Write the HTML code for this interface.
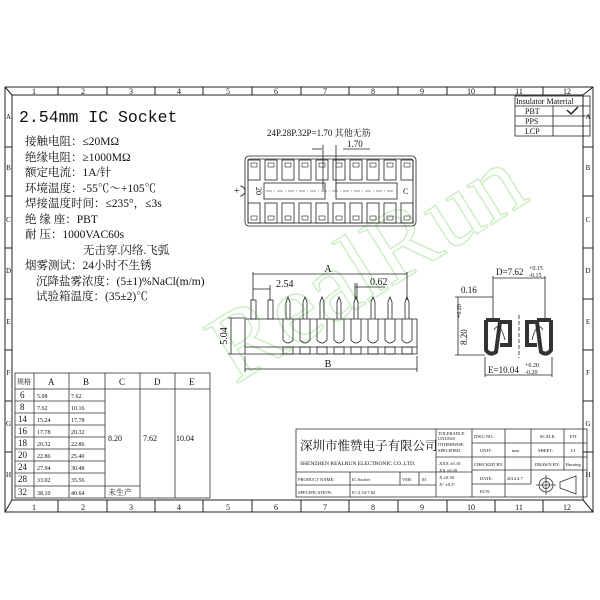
<!DOCTYPE html>
<html><head><meta charset="utf-8"><style>
html,body{margin:0;padding:0;background:#fff;}
svg{display:block}
text{font-family:"Liberation Serif","Noto Serif CJK SC",serif;fill:#111}
.m{font-family:"Liberation Mono","Noto Sans CJK SC",monospace}
</style></head><body>
<svg width="600" height="600" viewBox="0 0 600 600" xmlns="http://www.w3.org/2000/svg">
<rect width="600" height="600" fill="#fff"/>
<!-- watermark -->
<text x="235" y="385" font-size="100" stroke="#cdeec6" stroke-width="1.5" transform="rotate(-32 235 385)" style="fill:none">RealRun</text>
<g stroke="#222" fill="none" stroke-width="1">
<polyline points="5,87 593,87 593,512 5,512 5,87"/>
<rect x="12" y="95" width="571" height="405"/>
<line x1="5" y1="87" x2="12" y2="95"/><line x1="593" y1="87" x2="583" y2="95"/>
<line x1="5" y1="512" x2="12" y2="500"/><line x1="593" y1="512" x2="583" y2="500"/>
<line x1="58" y1="87" x2="58" y2="95"/><line x1="107" y1="87" x2="107" y2="95"/><line x1="155" y1="87" x2="155" y2="95"/><line x1="203" y1="87" x2="203" y2="95"/><line x1="252" y1="87" x2="252" y2="95"/><line x1="301" y1="87" x2="301" y2="95"/><line x1="349" y1="87" x2="349" y2="95"/><line x1="398" y1="87" x2="398" y2="95"/><line x1="447" y1="87" x2="447" y2="95"/><line x1="495" y1="87" x2="495" y2="95"/><line x1="543" y1="87" x2="543" y2="95"/>
<line x1="58" y1="500" x2="58" y2="512"/><line x1="107" y1="500" x2="107" y2="512"/><line x1="155" y1="500" x2="155" y2="512"/><line x1="203" y1="500" x2="203" y2="512"/><line x1="252" y1="500" x2="252" y2="512"/><line x1="301" y1="500" x2="301" y2="512"/><line x1="349" y1="500" x2="349" y2="512"/><line x1="398" y1="500" x2="398" y2="512"/><line x1="447" y1="500" x2="447" y2="512"/><line x1="495" y1="500" x2="495" y2="512"/><line x1="543" y1="500" x2="543" y2="512"/>
<line x1="5" y1="147" x2="12" y2="147"/><line x1="5" y1="196" x2="12" y2="196"/><line x1="5" y1="248" x2="12" y2="248"/><line x1="5" y1="299" x2="12" y2="299"/><line x1="5" y1="350" x2="12" y2="350"/><line x1="5" y1="401" x2="12" y2="401"/><line x1="5" y1="452" x2="12" y2="452"/>
<line x1="583" y1="147" x2="593" y2="147"/><line x1="583" y1="196" x2="593" y2="196"/><line x1="583" y1="248" x2="593" y2="248"/><line x1="583" y1="299" x2="593" y2="299"/><line x1="583" y1="350" x2="593" y2="350"/><line x1="583" y1="401" x2="593" y2="401"/><line x1="583" y1="452" x2="593" y2="452"/>
</g>
<g font-size="8" text-anchor="middle">
<text x="34" y="94">1</text><text x="83" y="94">2</text><text x="131" y="94">3</text><text x="179" y="94">4</text><text x="228" y="94">5</text><text x="276" y="94">6</text><text x="325" y="94">7</text><text x="373" y="94">8</text><text x="422" y="94">9</text><text x="471" y="94">10</text><text x="519" y="94">11</text><text x="567" y="94">12</text>
<text x="34" y="510">1</text><text x="83" y="510">2</text><text x="131" y="510">3</text><text x="179" y="510">4</text><text x="228" y="510">5</text><text x="276" y="510">6</text><text x="325" y="510">7</text><text x="373" y="510">8</text><text x="422" y="510">9</text><text x="471" y="510">10</text><text x="519" y="510">11</text><text x="567" y="510">12</text>
<text x="8.5" y="119" font-size="7">A</text><text x="8.5" y="170" font-size="7">B</text><text x="8.5" y="222" font-size="7">C</text><text x="8.5" y="273" font-size="7">D</text><text x="8.5" y="324" font-size="7">E</text><text x="8.5" y="375" font-size="7">F</text><text x="8.5" y="426" font-size="7">G</text><text x="8.5" y="477" font-size="7">H</text>
<text x="588" y="119" font-size="7">A</text><text x="588" y="170" font-size="7">B</text><text x="588" y="222" font-size="7">C</text><text x="588" y="273" font-size="7">D</text><text x="588" y="324" font-size="7">E</text><text x="588" y="375" font-size="7">F</text><text x="588" y="426" font-size="7">G</text><text x="588" y="477" font-size="7">H</text>
</g>

<text class="m" x="19" y="122" font-size="16.5">2.54mm IC Socket</text>
<g font-size="11.5">
<text x="25" y="145">接触电阻：≤20MΩ</text>
<text x="25" y="161">绝缘电阻：≥1000MΩ</text>
<text x="25" y="176">额定电流：1A/针</text>
<text x="25" y="192">环境温度：-55℃～+105℃</text>
<text x="25" y="207">焊接温度时间：≤235°，≤3s</text>
<text x="25" y="223">绝 缘 座：PBT</text>
<text x="25" y="238">耐    压：1000VAC60s</text>
<text x="83" y="254">无击穿.闪络.飞弧</text>
<text x="25" y="269">烟雾测试：24小时不生锈</text>
<text x="36" y="285">沉降盐雾浓度：(5±1)%NaCl(m/m)</text>
<text x="36" y="300">试验箱温度：(35±2)℃</text>
</g>

<g stroke="#222" fill="none" stroke-width="0.8">
<rect x="515" y="96" width="75" height="40"/>
<line x1="515" y1="106" x2="590" y2="106"/><line x1="515" y1="116" x2="590" y2="116"/><line x1="515" y1="126" x2="590" y2="126"/>
<line x1="553" y1="106" x2="553" y2="136"/>
<path d="M567 110 L571 114 L578 107" stroke-width="1.5"/>
</g>
<g font-size="8">
<text x="516" y="104">Insulator Material</text>
<text x="525" y="114">PBT</text><text x="525" y="124">PPS</text><text x="525" y="134">LCP</text>
</g>

<text x="267" y="136" font-size="9">24P.28P.32P=1.70 其他无筋</text>
<text x="347" y="147" font-size="9">1.70</text>
<g stroke="#222" fill="none" stroke-width="0.8">
<line x1="343" y1="149" x2="370" y2="149"/><line x1="312" y1="149" x2="322" y2="149"/><line x1="323" y1="145" x2="323" y2="190"/><line x1="336" y1="145" x2="336" y2="190"/>
<rect x="245" y="156" width="171" height="70" rx="4"/>
<rect x="248" y="159" width="165" height="64" rx="2"/>
<g id="slots">
<rect x="248" y="160" width="12" height="20"/><rect x="265" y="160" width="12" height="20"/><rect x="282" y="160" width="12" height="20"/><rect x="299" y="160" width="12" height="20"/><rect x="316" y="160" width="12" height="20"/><rect x="333" y="160" width="12" height="20"/><rect x="350" y="160" width="12" height="20"/><rect x="367" y="160" width="12" height="20"/><rect x="384" y="160" width="12" height="20"/><rect x="401" y="160" width="12" height="20"/>
</g>
<use href="#slots" y="43"/>
<g stroke-width="0.6">
<rect x="251" y="163" width="6" height="4"/><rect x="268" y="163" width="6" height="4"/><rect x="285" y="163" width="6" height="4"/><rect x="302" y="163" width="6" height="4"/><rect x="319" y="163" width="6" height="4"/><rect x="336" y="163" width="6" height="4"/><rect x="353" y="163" width="6" height="4"/><rect x="370" y="163" width="6" height="4"/><rect x="387" y="163" width="6" height="4"/><rect x="404" y="163" width="6" height="4"/>
<rect x="251" y="216" width="6" height="4"/><rect x="268" y="216" width="6" height="4"/><rect x="285" y="216" width="6" height="4"/><rect x="302" y="216" width="6" height="4"/><rect x="319" y="216" width="6" height="4"/><rect x="336" y="216" width="6" height="4"/><rect x="353" y="216" width="6" height="4"/><rect x="370" y="216" width="6" height="4"/><rect x="387" y="216" width="6" height="4"/><rect x="404" y="216" width="6" height="4"/>
</g>
<rect x="264" y="183" width="61" height="16"/><rect x="336" y="183" width="61" height="16"/>
<line x1="266" y1="191" x2="395" y2="191" stroke-dasharray="6,2,1,2" stroke-width="0.6"/>
<path d="M240 186 A5 5 0 0 1 240 196"/>
</g>
<text x="234" y="194" font-size="10">+</text>
<text x="256" y="191" font-size="8" transform="rotate(90 256 191)" text-anchor="middle">20</text>
<text x="403" y="194" font-size="8">C</text>

<g stroke="#222" fill="none" stroke-width="0.8">
<line x1="253" y1="274" x2="407" y2="274"/><line x1="253" y1="272" x2="253" y2="300"/><line x1="407" y1="272" x2="407" y2="300"/>
<line x1="253" y1="289" x2="270" y2="289"/><line x1="270" y1="285" x2="270" y2="300"/>
<line x1="355" y1="287" x2="385" y2="287"/><line x1="355" y1="283" x2="355" y2="300"/><line x1="357" y1="283" x2="357" y2="300"/>
<path d="M245 319 L417 319 L417 354 L245 354 Z"/><line x1="245" y1="347" x2="417" y2="347"/>
<line x1="228" y1="318" x2="245" y2="318"/><line x1="228" y1="354" x2="245" y2="354"/><line x1="231" y1="318" x2="231" y2="354"/>
<line x1="245" y1="356" x2="245" y2="372"/><line x1="417" y1="356" x2="417" y2="372"/><line x1="245" y1="369" x2="417" y2="369"/>
<rect x="251" y="300" width="5" height="19"/><rect x="268" y="300" width="5" height="19"/>
<path d="M286 319 V302 L288 297 L290 302 V319"/><path d="M303 319 V302 L305 297 L307 302 V319"/><path d="M320 319 V302 L322 297 L324 302 V319"/><path d="M337 319 V302 L339 297 L341 302 V319"/><path d="M354 319 V302 L356 297 L358 302 V319"/><path d="M371 319 V302 L373 297 L375 302 V319"/><path d="M388 319 V302 L390 297 L392 302 V319"/><path d="M405 319 V302 L407 297 L409 302 V319"/>
<path d="M283 319 V340 Q288 346 293 340 V319"/><path d="M300 319 V340 Q305 346 310 340 V319"/><path d="M317 319 V340 Q322 346 327 340 V319"/><path d="M334 319 V340 Q339 346 344 340 V319"/><path d="M351 319 V340 Q356 346 361 340 V319"/><path d="M368 319 V340 Q373 346 378 340 V319"/><path d="M385 319 V340 Q390 346 395 340 V319"/><path d="M402 319 V340 Q407 346 412 340 V319"/>
<rect x="283" y="347" width="10" height="7"/><rect x="300" y="347" width="10" height="7"/><rect x="317" y="347" width="10" height="7"/><rect x="334" y="347" width="10" height="7"/><rect x="351" y="347" width="10" height="7"/><rect x="368" y="347" width="10" height="7"/><rect x="385" y="347" width="10" height="7"/><rect x="402" y="347" width="10" height="7"/>
</g>
<g font-size="10">
<text x="328" y="272" text-anchor="middle">A</text>
<text x="276" y="287">2.54</text>
<text x="370" y="285">0.62</text>
<text x="328" y="367" text-anchor="middle">B</text>
<text x="227" y="336" transform="rotate(-90 227 336)" text-anchor="middle">5.04</text>
</g>

<g stroke="#222" fill="none" stroke-width="0.8">
<line x1="493" y1="278" x2="545" y2="278"/><line x1="493" y1="276" x2="493" y2="320"/><line x1="545" y1="276" x2="545" y2="320"/>
<line x1="458" y1="297" x2="458" y2="355"/><line x1="455" y1="297" x2="493" y2="297"/><line x1="455" y1="355" x2="485" y2="355"/>
<line x1="485" y1="357" x2="485" y2="377"/><line x1="552" y1="357" x2="552" y2="377"/><line x1="485" y1="375" x2="552" y2="375"/>
<line x1="519" y1="315" x2="519" y2="358" stroke-dasharray="4,2"/>
<path d="M486 320 L486 350 Q490 356 496 352 L500 322 L510 322 L510 345 L500 345 M486 320 L500 320" stroke="#333" stroke-width="4"/>
<path d="M551 320 L551 350 Q547 356 541 352 L537 322 L527 322 L527 345 L537 345 M551 320 L537 320" stroke="#333" stroke-width="4"/>
<path d="M494 330 Q500 320 505 340"/><path d="M543 330 Q537 320 532 340"/>
</g>
<g font-size="9">
<text x="496" y="275">D=7.62</text><text x="529" y="270" font-size="6">+0.15</text><text x="529" y="277" font-size="6">-0.15</text>
<text x="461" y="293">0.16</text>
<text x="467" y="345" transform="rotate(-90 467 345)">8.20</text><text x="461" y="318" font-size="6" transform="rotate(-90 461 318)">+0.20</text>
<text x="488" y="373">E=10.04</text><text x="525" y="367" font-size="6">+0.20</text><text x="525" y="374" font-size="6">-0.20</text>
</g>

<g stroke="#333" fill="none" stroke-width="0.8">
<rect x="15" y="373" width="195" height="125"/>
<line x1="34" y1="373" x2="34" y2="498"/><line x1="69" y1="373" x2="69" y2="498"/><line x1="105" y1="373" x2="105" y2="498"/><line x1="140" y1="373" x2="140" y2="498"/><line x1="175" y1="373" x2="175" y2="498"/>
<line x1="15" y1="389" x2="210" y2="389"/>
<line x1="15" y1="401" x2="105" y2="401"/><line x1="15" y1="413" x2="105" y2="413"/><line x1="15" y1="425" x2="105" y2="425"/><line x1="15" y1="437" x2="105" y2="437"/><line x1="15" y1="449" x2="105" y2="449"/><line x1="15" y1="461" x2="105" y2="461"/><line x1="15" y1="473" x2="105" y2="473"/><line x1="15" y1="486" x2="140" y2="486"/>
</g>
<g font-size="9">
<text x="17" y="384" font-size="7">规格</text><text x="48" y="385">A</text><text x="83" y="385">B</text><text x="119" y="385">C</text><text x="154" y="385">D</text><text x="189" y="385">E</text>
<text x="20" y="398">6</text><text x="20" y="410">8</text><text x="18" y="422">14</text><text x="18" y="434">16</text><text x="18" y="446">18</text><text x="18" y="458">20</text><text x="18" y="470">24</text><text x="18" y="482">28</text><text x="18" y="495">32</text>
<g font-size="6">
<text x="37" y="398">5.08</text><text x="37" y="410">7.62</text><text x="37" y="422">15.24</text><text x="37" y="434">17.78</text><text x="37" y="446">20.32</text><text x="37" y="458">22.86</text><text x="37" y="470">27.94</text><text x="37" y="482">33.02</text><text x="37" y="495">38.10</text>
<text x="71" y="398">7.62</text><text x="71" y="410">10.16</text><text x="71" y="422">17.78</text><text x="71" y="434">20.32</text><text x="71" y="446">22.86</text><text x="71" y="458">25.40</text><text x="71" y="470">30.48</text><text x="71" y="482">35.56</text><text x="71" y="495">40.64</text>
</g>
<text x="108" y="441" font-size="8">8.20</text><text x="143" y="441" font-size="8">7.62</text><text x="176" y="441" font-size="8">10.04</text>
<text x="108" y="495" font-size="8">未生产</text>
</g>

<g stroke="#333" fill="none" stroke-width="0.8">
<rect x="296" y="429" width="291" height="68"/>
<line x1="296" y1="472" x2="472" y2="472"/><line x1="296" y1="485" x2="436" y2="485"/>
<line x1="436" y1="429" x2="436" y2="497"/><line x1="472" y1="429" x2="472" y2="497"/>
<line x1="436" y1="457" x2="472" y2="457"/>
<line x1="505" y1="429" x2="505" y2="497"/><line x1="531" y1="429" x2="531" y2="484"/><line x1="564" y1="429" x2="564" y2="470"/>
<line x1="472" y1="443" x2="587" y2="443"/><line x1="472" y1="457" x2="587" y2="457"/><line x1="472" y1="470" x2="587" y2="470"/><line x1="472" y1="484" x2="531" y2="484"/>
<line x1="350" y1="472" x2="350" y2="497"/><line x1="400" y1="472" x2="400" y2="485"/><line x1="419" y1="472" x2="419" y2="485"/>
<circle cx="546" cy="485" r="7"/><circle cx="546" cy="485" r="3.5"/><line x1="536" y1="485" x2="556" y2="485"/><line x1="546" y1="475" x2="546" y2="495"/>
<path d="M560 482 L576 476 L576 494 L560 488 Z"/>
</g>
<text x="300" y="450" font-size="12.5">深圳市惟赞电子有限公司</text>
<text x="300" y="465" font-size="5.5">SHENZHEN REALRUN ELECTRONIC CO.,LTD.</text>
<g font-size="4.5">
<text x="438" y="435">TOLERANCE</text><text x="438" y="440">UNLESS</text><text x="438" y="446">OTHERWISE</text><text x="438" y="452">SPECIFIED</text>
<text x="438" y="465">.XXX ±0.10</text><text x="438" y="472">.XX  ±0.20</text><text x="438" y="479">.X   ±0.30</text><text x="438" y="486">.X°  ±0.3°</text>
<text x="298" y="481">PRODUCT NAME:</text><text x="352" y="481">IC Socket</text><text x="402" y="481">VER:</text><text x="422" y="481">03</text>
<text x="298" y="494">SPECIFICATION:</text><text x="352" y="494">IC-2.54-7.62</text>
<text x="474" y="438">DWG NO.:</text><text x="540" y="438">SCALE:</text><text x="570" y="438">FIT</text>
<text x="480" y="452">UNIT:</text><text x="512" y="452">mm</text><text x="538" y="452">SHEET:</text><text x="570" y="452">1/1</text>
<text x="474" y="466">CHECKED BY:</text><text x="535" y="466">DRAWN BY:</text><text x="566" y="466">Burning</text>
<text x="480" y="480">DATE:</text><text x="507" y="480">2014.4.7</text>
<text x="480" y="493">ECN:</text>
</g>
</svg>
</body></html>
